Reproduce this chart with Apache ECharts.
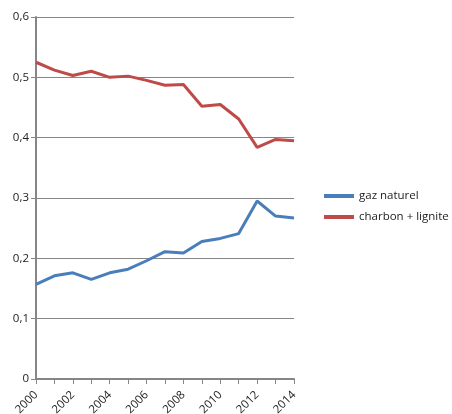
<!DOCTYPE html>
<html>
<head>
<meta charset="utf-8">
<script src="https://cdn.jsdelivr.net/npm/echarts@6/dist/echarts.min.js"></script>
<style>html,body{margin:0;padding:0;background:#fff}#c{width:452px;height:414px}</style>
</head>
<body>
<div id="c"></div>
<script>
const years = ['2000','2001','2002','2003','2004','2005','2006','2007','2008','2009','2010','2011','2012','2013','2014'];
const gazNaturel = [0.157,0.171,0.176,0.165,0.176,0.182,0.196,0.211,0.209,0.228,0.233,0.241,0.295,0.270,0.267];
const charbonLignite = [0.525,0.512,0.503,0.510,0.500,0.502,0.495,0.487,0.488,0.452,0.455,0.431,0.384,0.397,0.395];
const seriesNames = ['gaz naturel','charbon + lignite'];

const chart = echarts.init(document.getElementById('c'));
const font = '"Open Sans", Lato, sans-serif';
chart.setOption({
  animation: false,
  textStyle: {fontFamily: font},
  grid: {left: 36, right: 158, top: 17, bottom: 35, containLabel: false, outerBoundsMode: 'none'},
  legend: {
    orient: 'vertical', left: 324, top: 190, padding: 0, itemWidth: 30, itemHeight: 4, itemGap: 9,
    icon: 'rect',
    textStyle: {fontSize: 11.5, color: '#222', fontFamily: font},
    data: seriesNames
  },
  xAxis: {
    type: 'category', data: years, boundaryGap: false,
    axisLine: {lineStyle: {color: '#868686', width: 2}},
    axisTick: {interval: 0, length: 5, lineStyle: {color: '#868686'}},
    axisLabel: {interval: 1, rotate: 45, fontSize: 11.5, color: '#222', margin: 14, fontFamily: font}
  },
  yAxis: {
    type: 'value', min: 0, max: 0.6, interval: 0.1,
    axisLine: {show: true, lineStyle: {color: '#868686', width: 2}},
    axisTick: {show: true, length: 5, lineStyle: {color: '#868686'}},
    splitLine: {lineStyle: {color: '#868686', width: 1}},
    axisLabel: {fontSize: 11.5, color: '#222', margin: 7, fontFamily: font,
      formatter: v => v === 0 ? '0' : v.toFixed(1).replace('.', ',')}
  },
  series: [
    {name: seriesNames[0], type: 'line', data: gazNaturel, symbol: 'none',
     itemStyle: {color: '#4a7ebb'}, lineStyle: {color: '#4a7ebb', width: 3}},
    {name: seriesNames[1], type: 'line', data: charbonLignite, symbol: 'none',
     itemStyle: {color: '#be4b48'}, lineStyle: {color: '#be4b48', width: 3}}
  ]
});
</script>
</body>
</html>
